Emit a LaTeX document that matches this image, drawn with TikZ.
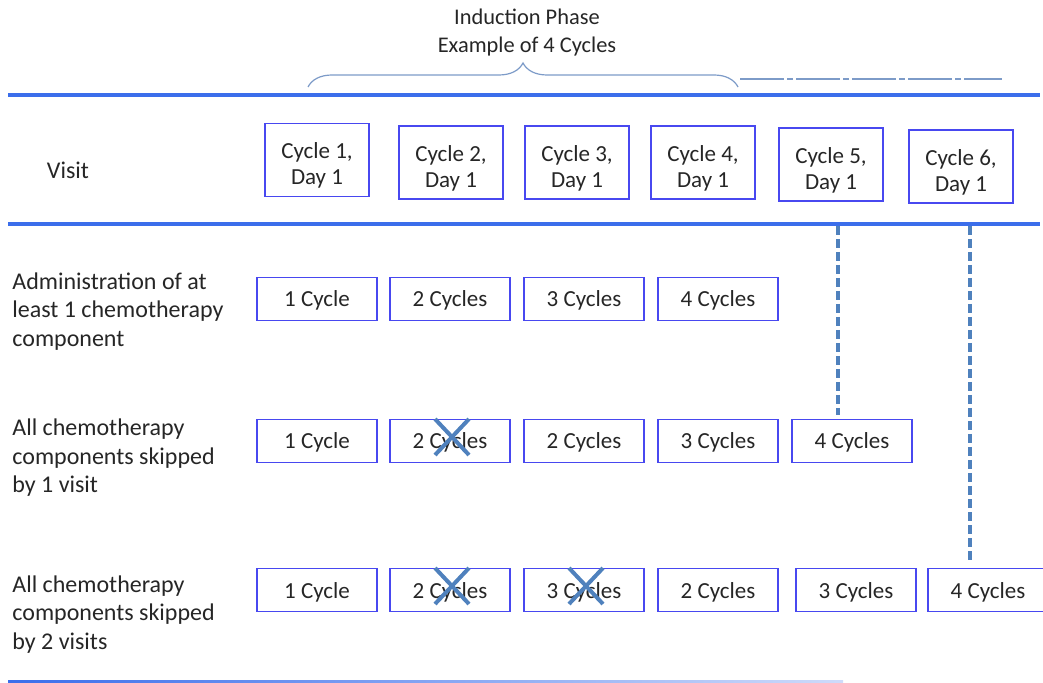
\documentclass[tikz,border=0pt]{standalone}
\usepackage{fontspec}
\setmainfont{Carlito}
\usetikzlibrary{positioning, decorations.pathreplacing}
\usepackage{xcolor}

\definecolor{rulebl}{RGB}{59,110,235}
\definecolor{boxbl}{RGB}{72,72,240}
\definecolor{dashbl}{RGB}{79,129,189}
\definecolor{bracebl}{RGB}{125,155,200}

\begin{document}
\begin{tikzpicture}[x=0.5pt, y=-0.5pt,
    every node/.style={font=\fontsize{11.5}{13}\selectfont, text=black!85},
    visitbox/.style={draw=boxbl, line width=0.75pt, minimum width=52pt, minimum height=36.5pt, align=center, inner sep=0pt, text height=25pt, text depth=0pt},
    cyclebox/.style={draw=boxbl, line width=0.75pt, minimum width=60pt, minimum height=21.5pt, inner sep=0pt, text height=8pt, text depth=0pt},
    rowlabel/.style={anchor=north west, align=left, inner sep=0pt, font=\fontsize{12}{14.25}\selectfont},
    skipmark/.style={draw=dashbl, line width=2pt},
    carryline/.style={draw=dashbl, line width=2pt, dash pattern=on 4.5pt off 2pt}]

    \useasboundingbox (0,0) rectangle (1043,683);

    %title and brace
    \node (title) at (527,32.5) [align=center, font=\fontsize{11.2}{13.6}\selectfont] {Induction Phase\\Example of 4 Cycles};
    \draw [bracebl, line width=0.6pt, decorate, decoration={brace, amplitude=12pt}] (308,87) -- (738,87);
    \draw [bracebl, line width=0.6pt, dash pattern=on 22pt off 1.5pt on 3pt off 1.5pt] (740,79) -- (1002,79);

    %horizontal rules
    \draw [rulebl, line width=2pt] (8,95) -- (1040,95);
    \draw [rulebl, line width=2pt] (8,224) -- (1040,224);
    \shade [left color=rulebl, right color=rulebl!25] (8,680.5) rectangle (843,683);

    %visit row
    \node (visit) at (68,170) [font=\fontsize{12}{14.25}\selectfont] {Visit};
    \foreach \i/\x/\y in {1/317/160, 2/451/162.5, 3/577/162.5, 4/703/162.5, 5/831/164.5, 6/961/166.5}
        \node [visitbox] (v\i) at (\x,\y) {Cycle \i,\\Day 1};

    %row labels
    \node [rowlabel] (la) at (12,272) {Administration of at\\least 1 chemotherapy\\component};
    \node [rowlabel] (lb) at (12,418.5) {All chemotherapy\\components skipped\\by 1 visit};
    \node [rowlabel] (lc) at (12,575) {All chemotherapy\\components skipped\\by 2 visits};

    %cycle counts
    \foreach \i/\x/\t in {1/317/1 Cycle, 2/450/2 Cycles, 3/584/3 Cycles, 4/718/4 Cycles}
        \node [cyclebox] (a\i) at (\x,299) {\t};
    \foreach \i/\x/\t in {1/317/1 Cycle, 2/450/2 Cycles, 3/584/2 Cycles, 4/718/3 Cycles, 5/852/4 Cycles}
        \node [cyclebox] (b\i) at (\x,441) {\t};
    \foreach \i/\x/\t in {1/317/1 Cycle, 2/450/2 Cycles, 3/584/3 Cycles, 4/718/2 Cycles, 5/856/3 Cycles, 6/988/4 Cycles}
        \node [cyclebox] (c\i) at (\x,590) {\t};

    %skipped visits
    \foreach \n in {b2,c2,c3} {
        \draw [skipmark] ([shift={(-15,-22)}]\n.center) -- ([shift={(19,14)}]\n.center);
        \draw [skipmark] ([shift={(19,-22)}]\n.center) -- ([shift={(-15,14)}]\n.center);
    }

    %shifted visits
    \coordinate (d5) at (838,226);
    \coordinate (d6) at (970,226);
    \draw [carryline, shorten >=2pt] (d5) -- (d5 |- b5.north);
    \draw [carryline, shorten >=3pt] (d6) -- (d6 |- c6.north);

\end{tikzpicture}
\end{document}
